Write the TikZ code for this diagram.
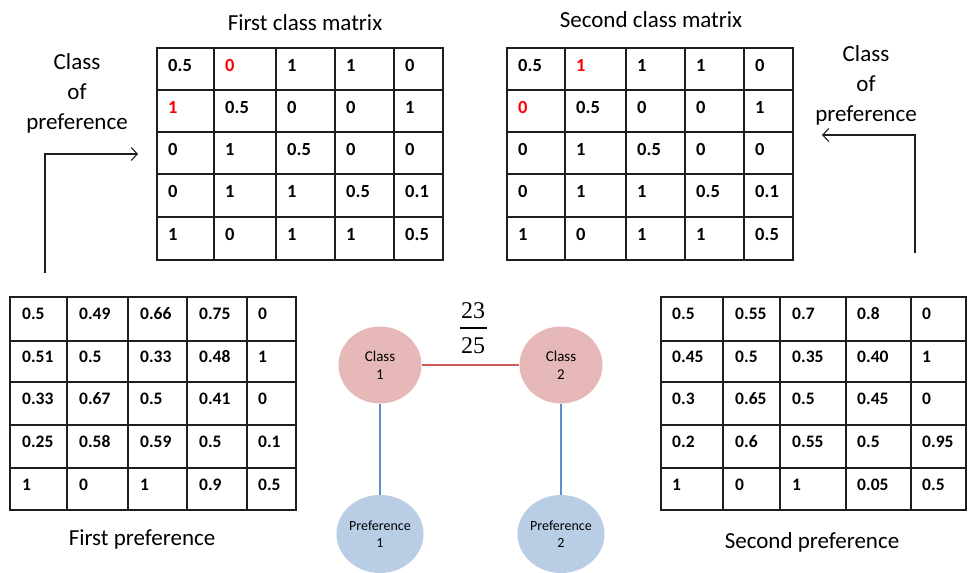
\documentclass[tikz,border=0pt]{standalone}
\usepackage{fontspec}
\setmainfont{Carlito}
\newfontfamily\fracfont{Liberation Serif}
\usetikzlibrary{arrows.meta,shapes.geometric}
\definecolor{classfill}{HTML}{E6B9B8}
\definecolor{preffill}{HTML}{B9CDE5}
\definecolor{classline}{HTML}{D05A5A}
\definecolor{prefline}{HTML}{5B8DC9}
\definecolor{gridgray}{HTML}{1E1E1E}
\newcommand\R[1]{\textcolor{red}{#1}}
\begin{document}
\begin{tikzpicture}[x=1pt,y=-1pt,
  gridline/.style={line width=1.6pt,draw=gridgray},
  cellbig/.style={anchor=base west,inner sep=0pt,font=\bfseries\fontsize{18.5}{20}\selectfont},
  cellsmall/.style={anchor=base west,inner sep=0pt,font=\bfseries\fontsize{17.5}{19}\selectfont},
  caption/.style={font=\fontsize{23}{30}\selectfont,align=center,inner sep=0pt},
  flow/.style={line width=1.1pt,draw=gridgray,-{Straight Barb[length=6pt,width=13pt,line width=1.1pt]}},
  classnode/.style={ellipse,fill=classfill,minimum width=83pt,minimum height=77pt,inner sep=0pt,align=center,
    font=\fontsize{15}{18}\selectfont},
  prefnode/.style={ellipse,fill=preffill,minimum width=81pt,minimum height=78pt,inner sep=0pt,align=center,
    font=\fontsize{14}{17}\selectfont},
  fracdigits/.style={anchor=base,inner sep=0pt,font=\fracfont\fontsize{24}{28}\selectfont},
]
\useasboundingbox (0,0) rectangle (970,573);

% ---------- first class matrix ----------
\node[caption] (t1) at (305,23) {First class matrix};
\draw[gridline] (157,48) rectangle (443,260);
\foreach \x in {214,276,335,394} \draw[gridline] (\x,48) -- (\x,260);
\foreach \y in {90,132,174,217} \draw[gridline] (157,\y) -- (443,\y);
\foreach \y/\ea/\eb/\ec/\ed/\ee [count=\r] in
  {71/0.5/{\R{0}}/1/1/0, 113/{\R{1}}/0.5/0/0/1, 155/0/1/0.5/0/0,
   197/0/1/1/0.5/0.1, 240/1/0/1/1/0.5}
  \foreach \x/\v [count=\c] in {168/\ea,225/\eb,287/\ec,346/\ed,405/\ee}
    \node[cellbig] (a-\r-\c) at (\x,\y) {\v};

% ---------- second class matrix ----------
\node[caption] (t2) at (651,20) {Second class matrix};
\draw[gridline] (507,48) rectangle (793,260);
\foreach \x in {565,626,685,744} \draw[gridline] (\x,48) -- (\x,260);
\foreach \y in {90,132,174,217} \draw[gridline] (507,\y) -- (793,\y);
\foreach \y/\ea/\eb/\ec/\ed/\ee [count=\r] in
  {71/0.5/{\R{1}}/1/1/0, 113/{\R{0}}/0.5/0/0/1, 155/0/1/0.5/0/0,
   197/0/1/1/0.5/0.1, 240/1/0/1/1/0.5}
  \foreach \x/\v [count=\c] in {518/\ea,576/\eb,637/\ec,696/\ed,755/\ee}
    \node[cellbig] (b-\r-\c) at (\x,\y) {\v};

% ---------- first preference ----------
\draw[gridline] (10,297) rectangle (296,510);
\foreach \x in {67,128,187,247} \draw[gridline] (\x,297) -- (\x,510);
\foreach \y in {341,382,425,468} \draw[gridline] (10,\y) -- (296,\y);
\foreach \y/\ea/\eb/\ec/\ed/\ee [count=\r] in
  {319/0.5/0.49/0.66/0.75/0, 362/0.51/0.5/0.33/0.48/1, 404/0.33/0.67/0.5/0.41/0,
   447/0.25/0.58/0.59/0.5/0.1, 490/1/0/1/0.9/0.5}
  \foreach \x/\v [count=\c] in {22/\ea,79/\eb,140/\ec,199/\ed,258/\ee}
    \node[cellsmall] (p-\r-\c) at (\x,\y) {\v};
\node[caption] (t3) at (142,539) {First preference};

% ---------- second preference ----------
\draw[gridline] (661,297) rectangle (966,510);
\foreach \x in {723,780,846,911} \draw[gridline] (\x,297) -- (\x,510);
\foreach \y in {341,382,425,468} \draw[gridline] (661,\y) -- (966,\y);
\foreach \y/\ea/\eb/\ec/\ed/\ee [count=\r] in
  {319/0.5/0.55/0.7/0.8/0, 362/0.45/0.5/0.35/0.40/1, 404/0.3/0.65/0.5/0.45/0,
   447/0.2/0.6/0.55/0.5/0.95, 490/1/0/1/0.05/0.5}
  \foreach \x/\v [count=\c] in {672/\ea,735/\eb,792/\ec,857/\ed,922/\ee}
    \node[cellsmall] (q-\r-\c) at (\x,\y) {\v};
\node[caption] (t4) at (812,542) {Second preference};

% ---------- side labels and arrows ----------
\node[caption] (lbl1) at (77,93) {Class\\of\\preference};
\node[caption] (lbl2) at (866,85) {Class\\of\\preference};
\coordinate (l0) at (45,273);
\coordinate (l1) at (45,154);
\coordinate (l2) at (138,154);
\draw[flow] (l0) -- (l1) -- (l2);
\coordinate (r0) at (915,253);
\coordinate (r1) at (915,135);
\coordinate (r2) at (822,135);
\draw[flow] (r0) -- (r1) -- (r2);

% ---------- class / preference graph ----------
\node[classnode] (c1) at (380,365) {Class\\1};
\node[classnode] (c2) at (561,365) {Class\\2};
\node[prefnode] (f1) at (380,534) {Preference\\1};
\node[prefnode] (f2) at (561,534) {Preference\\2};
\draw[classline,line width=1.2pt] (c1) -- (c2);
\draw[prefline,line width=1.1pt] (c1) -- (f1);
\draw[prefline,line width=1.1pt] (c2) -- (f2);

% similarity weight of the class edge
\node[fracdigits] (wn) at (473,318) {23};
\node[fracdigits] (wd) at (473,353) {25};
\coordinate (wl) at (460,328);
\coordinate (wr) at (487,328);
\draw[line width=1.3pt] (wl) -- (wr);
\end{tikzpicture}
\end{document}
